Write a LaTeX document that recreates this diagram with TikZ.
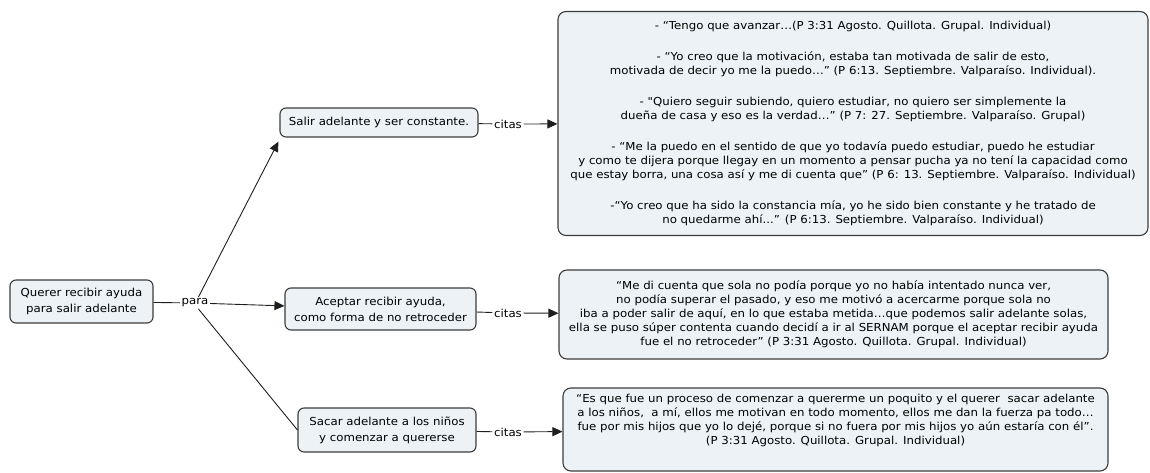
\documentclass[tikz,border=0pt]{standalone}
\usepackage{fontspec}
\setmainfont{DejaVu Sans}[FakeStretch=1.07,Ligatures=TeXOff]
\usetikzlibrary{arrows.meta}
\definecolor{boxfill}{RGB}{236,242,245}
\definecolor{boxline}{RGB}{60,60,60}
\definecolor{linkgray}{RGB}{30,30,30}

\begin{document}
\begin{tikzpicture}[x=1pt,y=-1pt,font=\fontsize{11}{16}\selectfont,
    concept/.style={draw=boxline,fill=boxfill,line width=1.1pt,rounded corners=6pt,align=center,inner sep=2pt},
    quote/.style={concept,rounded corners=8pt,font=\fontsize{11}{14}\selectfont},
    linkword/.style={inner sep=1.5pt,fill=white},
    link/.style={draw=linkgray,line width=0.9pt},
    arrowlink/.style={link,-{Triangle[length=10pt,width=9pt]}}]
  \useasboundingbox (0,0) rectangle (1150,473);
  % concepts
  \node[concept,minimum width=143pt,minimum height=43pt] (root) at (81.5,301.5) {Querer recibir ayuda\\para salir adelante};
  \node[linkword] (para) at (195,303) {para};
  \node[concept,minimum width=198pt,minimum height=29pt] (salir) at (379,122.5) {Salir adelante y ser constante.};
  \node[concept,minimum width=191pt,minimum height=42pt] (aceptar) at (380.5,309) {Aceptar recibir ayuda,\\como forma de no retroceder};
  \node[concept,minimum width=178pt,minimum height=44pt] (sacar) at (387,430) {Sacar adelante a los niños\\y comenzar a quererse};
  % linking words to the quotes
  \node[linkword] (citasA) at (508,124) {citas};
  \node[linkword] (citasB) at (508,313) {citas};
  \node[linkword] (citasC) at (508,432) {citas};
  % quotes
  \node[quote,minimum width=590pt,minimum height=224pt] (qsalir) at (853,123.5) {%
    - “Tengo que avanzar…(P 3:31 Agosto. Quillota. Grupal. Individual)\\[17pt]
    - “Yo creo que la motivación, estaba tan motivada de salir de esto,\\
    motivada de decir yo me la puedo…” (P 6:13. Septiembre. Valparaíso. Individual).\\[17pt]
    - "Quiero seguir subiendo, quiero estudiar, no quiero ser simplemente la\\
    dueña de casa y eso es la verdad…” (P 7: 27. Septiembre. Valparaíso. Grupal)\\[17pt]
    - “Me la puedo en el sentido de que yo todavía puedo estudiar, puedo he estudiar\\
    y como te dijera porque llegay en un momento a pensar pucha ya no tení la capacidad como\\
    que estay borra, una cosa así y me di cuenta que” (P 6: 13. Septiembre. Valparaíso. Individual)\\[17pt]
    -“Yo creo que ha sido la constancia mía, yo he sido bien constante y he tratado de\\
    no quedarme ahí...” (P 6:13. Septiembre. Valparaíso. Individual)};
  \node[quote,minimum width=549pt,minimum height=89pt] (qaceptar) at (833.5,314.5) {%
    “Me di cuenta que sola no podía porque yo no había intentado nunca ver,\\
    no podía superar el pasado, y eso me motivó a acercarme porque sola no\\
    iba a poder salir de aquí, en lo que estaba metida…que podemos salir adelante solas,\\
    ella se puso súper contenta cuando decidí a ir al SERNAM porque el aceptar recibir ayuda\\
    fue el no retroceder” (P 3:31 Agosto. Quillota. Grupal. Individual)};
  \node[quote,minimum width=545pt,minimum height=83pt] (qsacar) at (835.5,429.5) {%
    “Es que fue un proceso de comenzar a quererme un poquito y el querer\ \ sacar adelante\\
    a los niños,\ \ a mí, ellos me motivan en todo momento, ellos me dan la fuerza pa todo…\\
    fue por mis hijos que yo lo dejé, porque si no fuera por mis hijos yo aún estaría con él”.\\
    (P 3:31 Agosto. Quillota. Grupal. Individual)\\[7pt]\mbox{}};
  % connectors
  \draw[link] (root) -- (para);
  \draw[arrowlink] (para.60) -- ([xshift=-1pt,yshift=-4pt]salir.south west);
  \draw[arrowlink] (para) -- (aceptar);
  \draw[link] (para.-60) -- (sacar.west);
  \draw[link] (salir) -- (citasA);
  \draw[arrowlink] (citasA) -- (qsalir);
  \draw[link] (aceptar) -- (citasB);
  \draw[arrowlink] (citasB) -- (qaceptar);
  \draw[link] (sacar) -- (citasC);
  \draw[arrowlink] (citasC) -- (qsacar);
\end{tikzpicture}
\end{document}
